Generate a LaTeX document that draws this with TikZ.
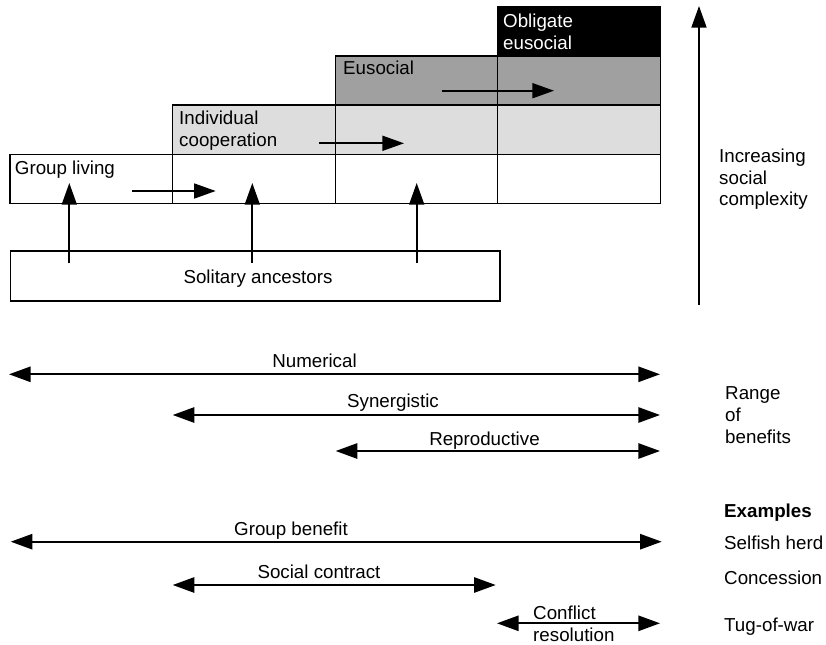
\documentclass[tikz,border=0pt]{standalone}
\usepackage{fontspec}
\setmainfont{Liberation Sans}
\usetikzlibrary{arrows.meta,positioning}

\definecolor{lightcell}{RGB}{221,221,221}
\definecolor{midcell}{RGB}{160,160,160}

\begin{document}
\begin{tikzpicture}[x=0.03cm, y=-0.03cm, node distance=0pt,
    cell/.style = {draw, line width=1.1pt, minimum width=4.878cm, minimum height=1.473cm, inner sep=0pt, outer sep=0pt},
    txt/.style = {font=\fontsize{16}{18.7}\selectfont, inner sep=0pt, align=left},
    arr/.style = {line width=1.5pt, -{Triangle[length=0.65cm,width=0.45cm]}},
    dbl/.style = {line width=1.5pt, {Triangle[length=0.65cm,width=0.46cm]}-{Triangle[length=0.65cm,width=0.46cm]}}]
    \useasboundingbox (0,0) rectangle (826,645);

    % stages
    \node[cell] (c1) at (91.3,178.75) {};
    \node[cell] (c2) [right=of c1] {};
    \node[cell] (c3) [right=of c2] {};
    \node[cell] (c4) [right=of c3] {};
    \node[cell,fill=lightcell] (d2) [above=of c2] {};
    \node[cell,fill=lightcell] (d3) [above=of c3] {};
    \node[cell,fill=lightcell] (d4) [above=of c4] {};
    \node[cell,fill=midcell] (e3) [above=of d3] {};
    \node[cell,fill=midcell] (e4) [above=of d4] {};
    \node[cell,fill=black] (f4) [above=of e4] {};

    \node[txt,anchor=base west] (glabel) at (14.7,174) {Group living};
    \node[txt,anchor=north west] (ilabel) at (179,111) {Individual\\cooperation};
    \node[txt,anchor=base west] (elabel) at (343,74.5) {Eusocial};
    \node[txt,anchor=north west,text=white] (olabel) at (503,14) {Obligate\\eusocial};

    \node[draw,line width=1.1pt,minimum width=14.68cm,minimum height=1.5cm,inner sep=0pt] (sol) at (255.35,276) {};
    \node[txt,anchor=base] (slabel) at (258,283.5) {Solitary ancestors};

    % arrows between stages
    \coordinate (s1) at (69.3,263);   \coordinate (t1) at (69.3,183);
    \coordinate (s2) at (252.3,263);  \coordinate (t2) at (252.3,183);
    \coordinate (s3) at (416.7,263);  \coordinate (t3) at (416.7,183);
    \draw[arr] (s1) -- (t1);
    \draw[arr] (s2) -- (t2);
    \draw[arr] (s3) -- (t3);

    \coordinate (h1a) at (132,191);   \coordinate (h1b) at (215.7,191);
    \coordinate (h2a) at (319,143.3); \coordinate (h2b) at (404,143.3);
    \coordinate (h3a) at (441.7,90.7);\coordinate (h3b) at (554,90.7);
    \draw[arr] (h1a) -- (h1b);
    \draw[arr] (h2a) -- (h2b);
    \draw[arr] (h3a) -- (h3b);

    \coordinate (v0) at (699,305);    \coordinate (v1) at (699,6);
    \draw[arr] (v0) -- (v1);
    \node[txt,anchor=north west] (complex) at (719,148.3) {Increasing\\social\\complexity};

    % range of benefits
    \coordinate (n0) at (9,374.3);     \coordinate (n1) at (660,374.3);
    \coordinate (y0) at (172.7,415);   \coordinate (y1) at (660,415);
    \coordinate (r0) at (335.7,451);   \coordinate (r1) at (660,451);
    \draw[dbl] (n0) -- (n1);
    \draw[dbl] (y0) -- (y1);
    \draw[dbl] (r0) -- (r1);
    \node[txt,anchor=base] (nlabel) at (314.5,367.3) {Numerical};
    \node[txt,anchor=base] (ylabel) at (393,407) {Synergistic};
    \node[txt,anchor=base] (rlabel) at (484.5,445) {Reproductive};
    \node[txt,anchor=north west] (range) at (725,386.7) {Range\\of\\benefits};

    % examples
    \coordinate (g0) at (10.7,541.7);  \coordinate (g1) at (661.7,541.7);
    \coordinate (k0) at (172.7,585);   \coordinate (k1) at (495.7,585);
    \coordinate (q0) at (497,623.3);   \coordinate (q1) at (660,623.3);
    \draw[dbl] (g0) -- (g1);
    \draw[dbl] (k0) -- (k1);
    \draw[dbl] (q0) -- (q1);
    \node[txt,anchor=base] (glabel2) at (291,535) {Group benefit};
    \node[txt,anchor=base] (klabel) at (319,578.5) {Social contract};
    \node[txt,anchor=north west] (qlabel) at (533,605.3) {Conflict\\resolution};

    \node[txt,anchor=base west,font=\fontsize{16}{18.7}\selectfont\bfseries] (ex) at (724,517.5) {Examples};
    \node[txt,anchor=base west] (ex1) at (724,549) {Selfish herd};
    \node[txt,anchor=base west] (ex2) at (724,584) {Concession};
    \node[txt,anchor=base west] (ex3) at (724,631) {Tug-of-war};
\end{tikzpicture}
\end{document}
